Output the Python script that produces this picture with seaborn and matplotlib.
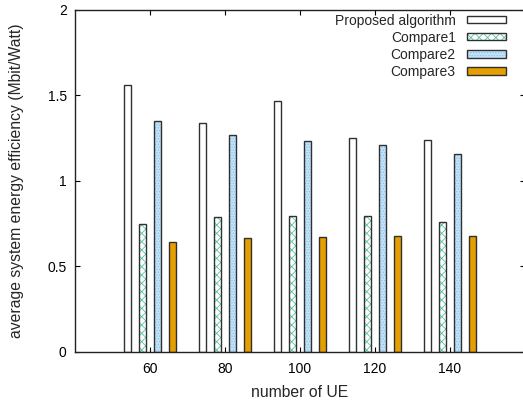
import matplotlib
matplotlib.use("Agg")
import matplotlib.pyplot as plt
from matplotlib.patches import Rectangle
import pandas as pd
import seaborn as sns

# values
ue = [60, 80, 100, 120, 140]
methods = ["Proposed algorithm", "Compare1", "Compare2", "Compare3"]
proposed = [1.56, 1.34, 1.465, 1.25, 1.24]
compare1 = [0.745, 0.79, 0.795, 0.795, 0.76]
compare2 = [1.35, 1.265, 1.235, 1.21, 1.155]
compare3 = [0.645, 0.665, 0.67, 0.675, 0.68]
y_ticks = [0, 0.5, 1, 1.5, 2]
y_ticklabels = ["0", "0.5", "1", "1.5", "2"]

df = pd.DataFrame({
    "UE": ue * 4,
    "value": proposed + compare1 + compare2 + compare3,
    "method": [m for m in methods for _ in ue],
})

sns.set_style("ticks")
plt.rcParams["font.family"] = ["Liberation Sans", "DejaVu Sans"]
plt.rcParams["hatch.linewidth"] = 0.6

face = ["white", "white", "#c2e2f8", "#e69f00"]
hatch_color = ["white", "#55c79c", "#8cc4ec", "#e69f00"]
hatches = [None, "xxxx", "......", None]
outline = "#303030"

fig = plt.figure(figsize=(5.23, 4.01), dpi=100)
ax = fig.add_axes([0.1434, 0.1222, 0.8604, 0.854])

sns.barplot(data=df, x="UE", y="value", hue="method", hue_order=methods,
            palette=face, width=0.8, gap=0.47, ax=ax, legend=False)

handles = []
for i, cont in enumerate(ax.containers):
    for p in cont.patches:
        p.set_facecolor(face[i])
        p.set_edgecolor(hatch_color[i])
        p.set_linewidth(0)
        if hatches[i]:
            p.set_hatch(hatches[i])
        # dark outline on top of the (possibly hatched) fill
        ax.add_patch(Rectangle(p.get_xy(), p.get_width(), p.get_height(),
                               fill=False, edgecolor=outline, linewidth=1.0))
    fill_h = Rectangle((0, 0), 1, 1, facecolor=face[i], edgecolor=hatch_color[i],
                       linewidth=0, hatch=hatches[i])
    edge_h = Rectangle((0, 0), 1, 1, fill=False, edgecolor=outline, linewidth=1.0)
    handles.append((fill_h, edge_h))

ax.set_xlim(-1, 5)
ax.set_ylim(0, 2)
ax.set_yticks(y_ticks)
ax.set_yticklabels(y_ticklabels)
ax.set_xlabel("number of UE", fontsize=11.3, labelpad=7)
ax.set_ylabel("average system energy efficiency (Mbit/Watt)", fontsize=11.3,
              labelpad=17)

ax.tick_params(direction="in", length=3.5, width=0.8, labelsize=10,
               top=True, right=True, colors="black")
ax.tick_params(axis="y", pad=6)
ax.tick_params(axis="x", pad=7)
for s in ax.spines.values():
    s.set_linewidth(1.0)
    s.set_color("#222222")

ax.legend(handles=handles, labels=methods, loc="upper right",
          bbox_to_anchor=(0.957, 0.988), frameon=False, markerfirst=False,
          fontsize=10, handlelength=2.8, handleheight=0.45, labelspacing=0.22,
          handletextpad=0.8, borderpad=0, borderaxespad=0)

fig.savefig("out.png", dpi=100)
